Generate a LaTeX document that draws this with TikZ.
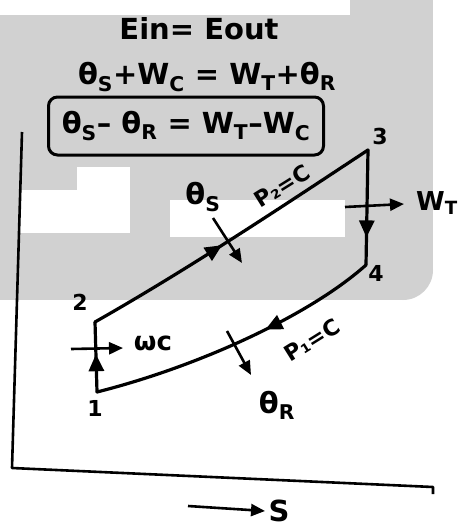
\documentclass[tikz,border=0pt]{standalone}
\usepackage{fontspec}
\setmainfont{DejaVu Sans}
\usetikzlibrary{arrows.meta, decorations.markings, positioning}

\tikzset{
  hand/.style={font=\fontsize{26}{30}\selectfont\bfseries},
  big hand/.style={font=\fontsize{29}{33}\selectfont\bfseries},
  small hand/.style={font=\fontsize{22}{26}\selectfont\bfseries},
  cycleline/.style={line width=3.2pt, line cap=round},
  flow/.style={line width=2.6pt, -{Triangle[length=14pt,width=12pt]}},
  midarrow/.style={postaction={decorate}, decoration={markings,
      mark=at position #1 with {\arrow{Triangle[length=17pt,width=15pt]}}}},
}

\begin{document}
\begin{tikzpicture}[x=1pt, y=-1pt]
\useasboundingbox (0,0) rectangle (462,527);

% grey patch of the scan
\fill[black!18] (0,15) rectangle (433,270);
\fill[black!18] (0,270) rectangle (403,300);
\fill[black!18] (403,270) circle[radius=30pt];
\fill[black!18] (350,0) rectangle (433,15);
\fill[white] (20,190) rectangle (130,233);
\fill[white] (77,167) rectangle (130,193);
\fill[white] (170,200) rectangle (345,237);

% energy balance
\node[big hand] (ebal) at (199,29) {Ein= Eout};
\node[big hand] (eq) at (207,77) {θ\textsubscript{S}+W\textsubscript{C} = W\textsubscript{T}+θ\textsubscript{R}};
\node[big hand, draw, line width=3pt, rounded corners=9pt, minimum width=275pt, minimum height=58pt] (net) at (186,126)
  {θ\textsubscript{S}– θ\textsubscript{R} = W\textsubscript{T}–W\textsubscript{C}};

% axes
\coordinate (axtop) at (22,132);
\coordinate (orig) at (12,468);
\coordinate (axend) at (433,487);
\draw[line width=2.6pt, line join=round] (axtop) -- (orig) -- (axend) -- ++(0,7);
\node[big hand] (s) at (279,511) {S};
\coordinate (sstart) at (188,506);
\draw[flow] (sstart) -- (s.west);

% cycle 1-2-3-4
\coordinate (p1) at (97,392);
\coordinate (p2) at (95,322);
\coordinate (p3) at (368,150);
\coordinate (p4) at (366,265);
\draw[cycleline, midarrow=0.54] (p1) -- (p2);
\draw[cycleline, midarrow=0.46] (p2) .. controls (190,268) and (280,208) .. (p3);
\draw[cycleline, midarrow=0.76] (p3) -- (p4);
\draw[cycleline, midarrow=0.40] (p4) .. controls (310,315) and (200,366) .. (p1);

\node[small hand] (n1) at (95,408) {1};
\node[small hand] (n2) at (80,302) {2};
\node[small hand] (n3) at (380,136) {3};
\node[small hand] (n4) at (376,273) {4};

% heat and work
\node[big hand] (qs) at (203,197) {θ\textsubscript{S}};
\node[small hand, rotate=32] (ph) at (282,186) {P₂=C};
\coordinate (qsA) at (213,218);
\coordinate (qsB) at (242,263);
\draw[flow] (qsA) -- (qsB);

\node[hand] (wt) at (437,203) {W\textsubscript{T}};
\coordinate (wtA) at (345,207);
\coordinate (wtB) at (404,204);
\draw[flow] (wtA) -- (wtB);

\node[hand] (wc) at (153,343) {ωc};
\coordinate (wcA) at (71,349);
\coordinate (wcB) at (123,348);
\draw[flow] (wcA) -- (wcB);

\node[small hand, rotate=32] (pl) at (312,340) {P₁=C};
\node[big hand] (qr) at (277,405) {θ\textsubscript{R}};
\coordinate (qrA) at (227,331);
\coordinate (qrB) at (251,375);
\draw[flow] (qrA) -- (qrB);
\end{tikzpicture}
\end{document}
